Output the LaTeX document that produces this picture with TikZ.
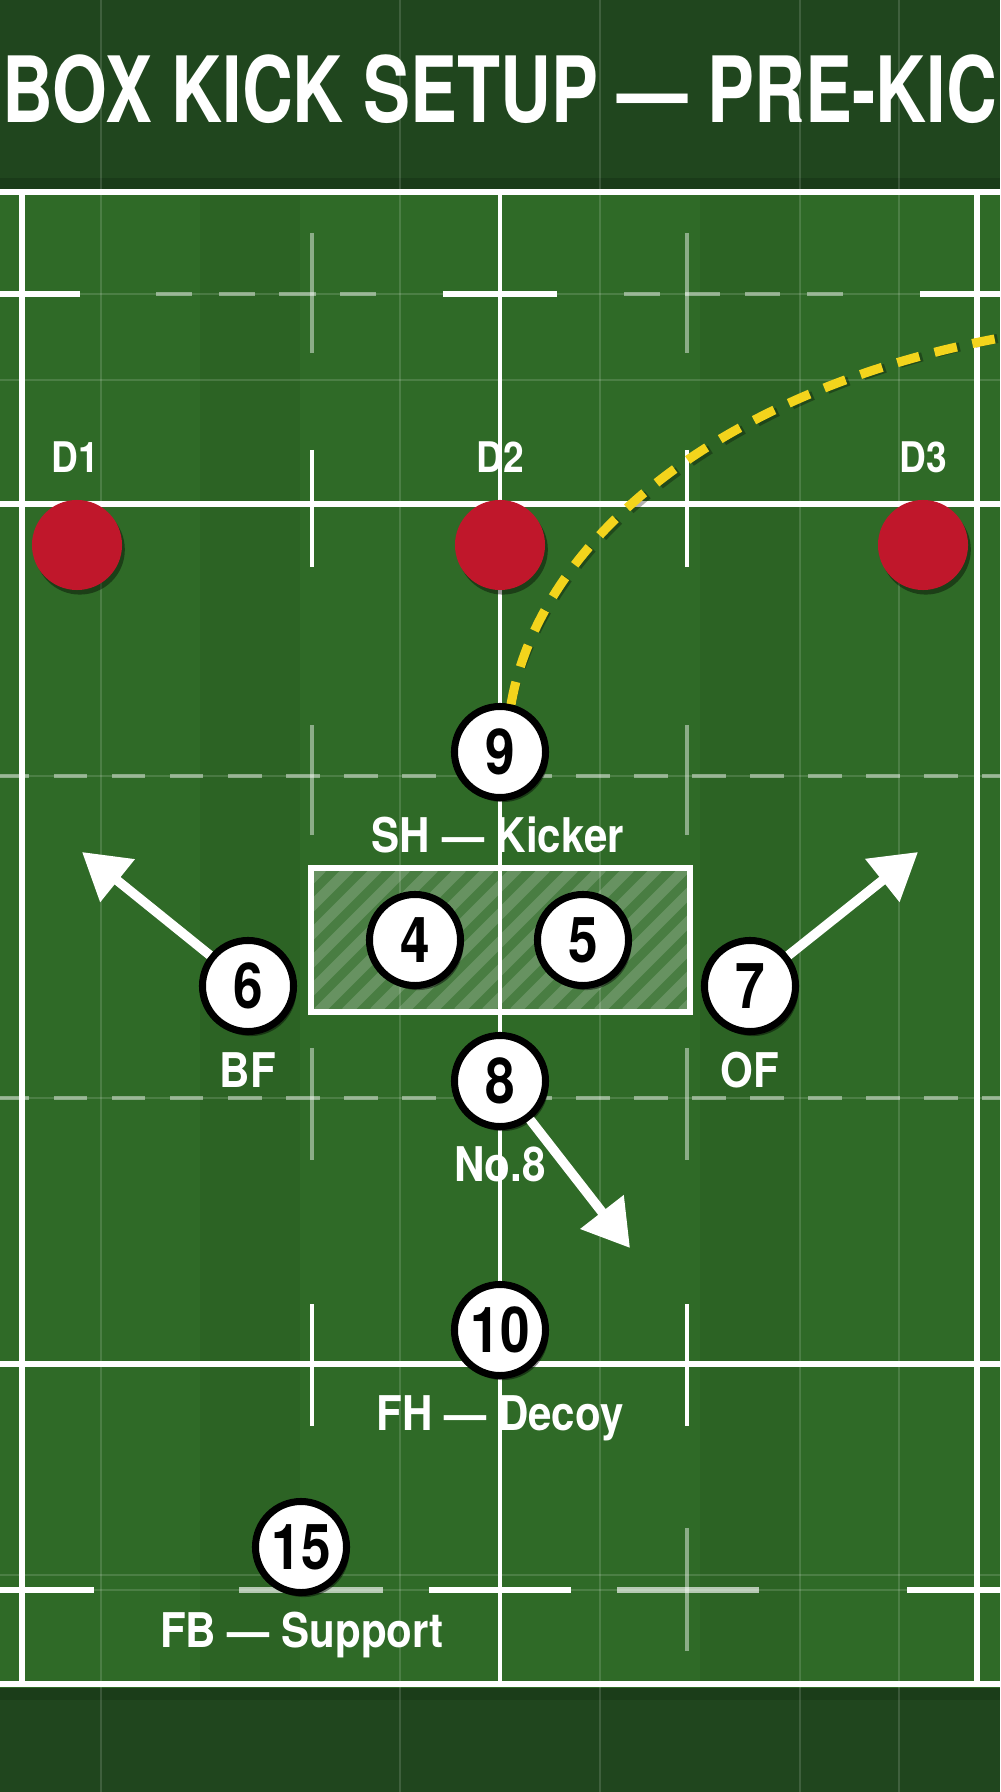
\documentclass[tikz,border=0pt]{standalone}
\usepackage{fontspec}
\newfontfamily\hv[FakeStretch=0.88]{TeX Gyre Heros}
\newfontfamily\hvn[FakeStretch=0.84]{TeX Gyre Heros}
\newfontfamily\hvt[FakeStretch=0.77]{TeX Gyre Heros}
\usetikzlibrary{arrows.meta,shadows}
\definecolor{fieldg}{HTML}{2F6A27}
\definecolor{fieldd}{HTML}{2C6324}
\definecolor{bandg}{HTML}{20461E}
\definecolor{bandd}{HTML}{173516}
\definecolor{redd}{HTML}{C0172B}
\definecolor{yel}{HTML}{F3D41C}
\begin{document}
\begin{tikzpicture}[x=0.01cm,y=-0.01cm,
  fl/.style={white, line width=1.5pt},
  fll/.style={white, opacity=0.45, line width=1.4pt},
  tickw/.style={white, line width=1.1pt},
  tickl/.style={white, opacity=0.45, line width=1.1pt},
  faint/.style={white, opacity=0.14, line width=0.35pt},
  dashl/.style={white, opacity=0.45, line width=1.3pt, dash pattern=on 9.5pt off 7pt},
  player/.style={circle, fill=white, draw=black, line width=2pt, minimum size=0.91cm, inner sep=0pt,
    font=\hvn\bfseries\fontsize{18}{18}\selectfont,
    drop shadow={shadow xshift=0.8pt, shadow yshift=-1.3pt, opacity=0.45, fill=black}},
  defender/.style={circle, fill=redd, minimum size=0.9cm, inner sep=0pt,
    drop shadow={shadow xshift=0.8pt, shadow yshift=-1.3pt, opacity=0.4, fill=black}},
  lab/.style={text=white, font=\hv\bfseries\fontsize{13.6}{14}\selectfont, inner sep=0pt, anchor=base},
  dlab/.style={text=white, font=\hv\bfseries\fontsize{12}{12}\selectfont, inner sep=0pt, anchor=base},
  runarrow/.style={white, line width=2.7pt, -{Triangle[length=13pt,width=15pt]}},
  kick/.style={yel, line width=2.6pt, dash pattern=on 6.5pt off 4.5pt}]
\useasboundingbox (0,0) rectangle (1000,1792);
% backgrounds
\fill[bandg] (0,0) rectangle (1000,1792);
\fill[bandd, opacity=0.6] (0,178) rectangle (1000,190);
\fill[fieldg] (0,190) rectangle (1000,1688);
\fill[fieldd] (200,190) rectangle (300,1688);
\fill[fieldd] (700,190) rectangle (800,1688);
\fill[bandd, opacity=0.5] (0,1688) rectangle (1000,1700);
\foreach \x in {101,400,600,800,899} \draw[faint] (\x,0) -- (\x,1792);
\foreach \y in {380,1575} \draw[faint] (0,\y) -- (1000,\y);
\foreach \y in {294,776,1098,1590} \draw[faint] (0,\y) -- (1000,\y);
% line at 294
\foreach \a/\b in {0/80,443/557,920/1000} \draw[fl] (\a,294) -- (\b,294);
\foreach \a/\b in {156/192,219/255,279/316,340/376,624/660,685/720,745/780,807/843} \draw[fll] (\a,294) -- (\b,294);
% dashed lines at 776 and 1098
\draw[dashl] (-4,776) -- (1000,776);
\draw[dashl] (-4,1098) -- (1000,1098);
% line at 1590
\foreach \a/\b in {0/94,429/571,907/1000} \draw[fl] (\a,1590) -- (\b,1590);
\foreach \a/\b in {239/383,617/759} \draw[white, opacity=0.65, line width=1.5pt] (\a,1590) -- (\b,1590);
% full lines
\draw[fl] (0,192) -- (1000,192);
\draw[fl] (0,504) -- (1000,504);
\draw[fl] (0,1364) -- (1000,1364);
\draw[fl] (0,1684) -- (1000,1684);
\draw[fl] (22,192) -- (22,1684);
\draw[fl] (977,192) -- (977,1684);
\draw[white, line width=1.2pt] (500,192) -- (500,1684);
% ticks
\foreach \x in {312,687} {
  \draw[tickl] (\x,233) -- (\x,353);
  \draw[tickw] (\x,450) -- (\x,567);
  \draw[tickl] (\x,725) -- (\x,835);
  \draw[tickl] (\x,1048) -- (\x,1160);
  \draw[tickw] (\x,1304) -- (\x,1426);
}
\draw[tickl] (687,1528) -- (687,1651);
% hatched scrum box
\begin{scope}
  \clip (311,868) rectangle (690,1012);
  \fill[white, opacity=0.13] (311,868) rectangle (690,1012);
  \foreach \x in {150,178,...,720} \draw[white, opacity=0.17, line width=3pt] (\x,1012) -- ++(144,-144);
\end{scope}
\draw[white, line width=1.2pt] (500,868) -- (500,1012);
\node[draw=white, line width=1.5pt, minimum width=3.79cm, minimum height=1.44cm, inner sep=0pt] (scrum) at (500.5,940) {};
% defenders
\node[defender] (d1) at (77,545) {};
\node[defender] (d2) at (500,545) {};
\node[defender] (d3) at (923,545) {};
\node[dlab] (l1) at (75,473) {D1};
\node[dlab] (l2) at (500,473) {D2};
\node[dlab] (l3) at (923,473) {D3};
% players
\coordinate (kend) at (1000,338);
\coordinate (t6) at (82,852);
\coordinate (t7) at (918,852);
\coordinate (t8) at (630,1248);
\node[player] (p9) at (500,752) {9};
\node[player] (p4) at (415,940) {4};
\node[player] (p5) at (583,940) {5};
\node[player] (p6) at (248,986) {6};
\node[player] (p7) at (750,986) {7};
\node[player] (p8) at (500,1081) {8};
\node[player] (p10) at (500,1330) {10};
\node[player] (p15) at (301,1547) {15};
% kick trajectory
\draw[black, opacity=0.3, line width=2.6pt, dash pattern=on 6.5pt off 4.5pt, shift={(3,4)}] (p9.77) .. controls (540,540) and (720,390) .. (kend);
\draw[kick] (p9.77) .. controls (540,540) and (720,390) .. (kend);
% running arrows
\draw[runarrow] (p6) -- (t6);
\draw[runarrow] (p7) -- (t7);
\draw[runarrow] (p8) -- (t8);
% labels
\node[lab] (sh) at (498,852) {SH — Kicker};
\node[lab] (bf) at (248,1087) {BF};
\node[lab] (of) at (750,1087) {OF};
\node[lab] (no8) at (500,1181) {No.8};
\node[lab] (fh) at (500,1430) {FH — Decoy};
\node[lab] (fb) at (302,1647) {FB — Support};
% title
\node[text=white, font=\hvt\bfseries\fontsize{26}{26}\selectfont, inner sep=0pt, anchor=base] (title) at (500,123) {BOX KICK SETUP — PRE-KIC};
\end{tikzpicture}
\end{document}
